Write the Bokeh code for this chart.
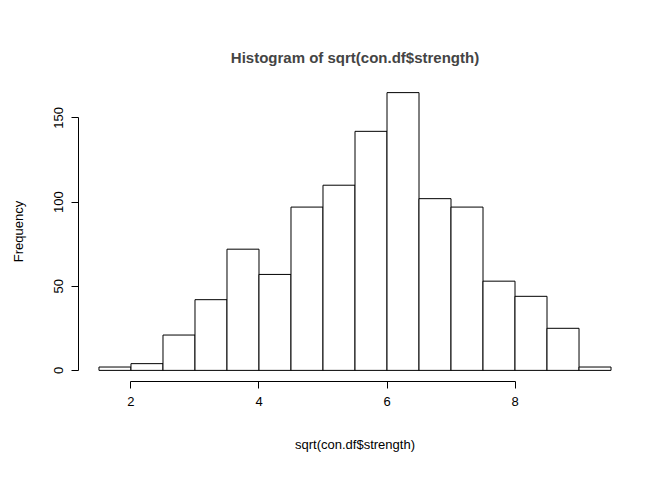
from bokeh.plotting import figure
from bokeh.models import FixedTicker, Range1d
from bokeh.embed import file_html
from bokeh.resources import INLINE

edges = [1.5,2,2.5,3,3.5,4,4.5,5,5.5,6,6.5,7,7.5,8,8.5,9,9.5]
counts = [2,4,21,42,72,57,97,110,142,165,102,97,53,44,25,2]

F = "Liberation Sans"
p = figure(width=672, height=480, output_backend="svg", toolbar_location=None,
           x_range=Range1d(1.18, 9.82), y_range=Range1d(-6.6, 171.6),
           min_border_left=78, min_border_right=41, min_border_top=81, min_border_bottom=99,
           title="Histogram of sqrt(con.df$strength)")
p.title.align = "center"
p.title.text_font = F
p.title.text_font_size = "15px"
p.title.text_font_style = "bold"
p.title.standoff = 32
p.outline_line_color = None
p.grid.visible = False
p.quad(left=edges[:-1], right=edges[1:], bottom=0, top=counts,
       fill_color="white", line_color="black", line_width=1)

for ax, ticks in ((p.xaxis[0], [2,4,6,8]), (p.yaxis[0], [0,50,100,150])):
    ax.ticker = FixedTicker(ticks=ticks)
    ax.bounds = (ticks[0], ticks[-1])
    ax.major_tick_out = 7
    ax.major_tick_in = 0
    ax.minor_tick_out = 0
    ax.minor_tick_in = 0
    ax.axis_line_color = "black"
    ax.major_tick_line_color = "black"
    ax.major_label_text_font = F
    ax.major_label_text_font_size = "13px"
    ax.major_label_text_color = "black"
    ax.major_label_standoff = 8
    ax.axis_label_text_font = F
    ax.axis_label_text_font_size = "13px"
    ax.axis_label_text_font_style = "normal"
    ax.axis_label_text_color = "black"
p.yaxis[0].major_label_orientation = "vertical"
p.xaxis[0].axis_label = "sqrt(con.df$strength)"
p.xaxis[0].axis_label_standoff = 28
p.yaxis[0].axis_label = "Frequency"
p.yaxis[0].axis_label_standoff = 26

open("out.html", "w").write(file_html(p, INLINE))
